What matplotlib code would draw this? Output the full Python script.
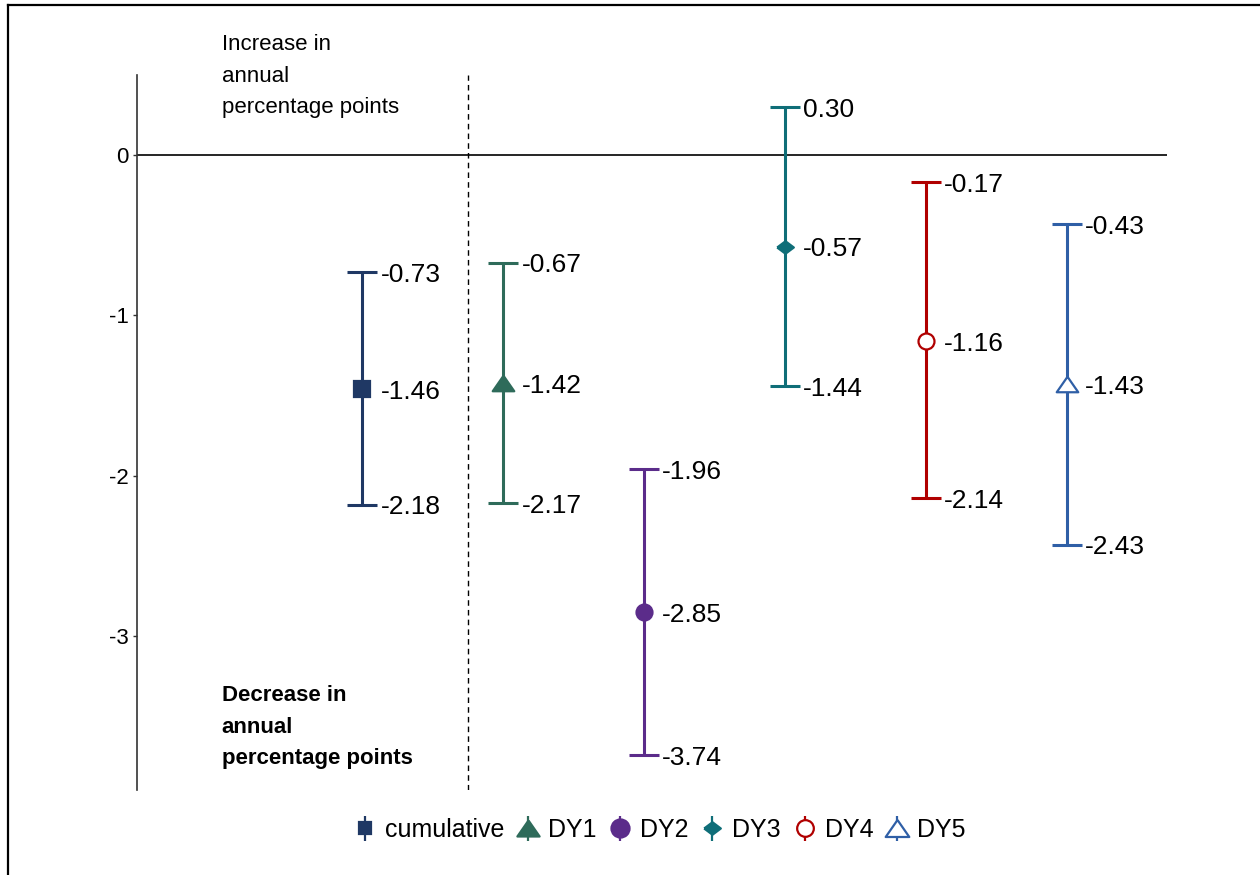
import numpy as np
import matplotlib
matplotlib.use("Agg")
import matplotlib.pyplot as plt
from matplotlib.lines import Line2D
from matplotlib.collections import LineCollection
from matplotlib.container import ErrorbarContainer

plt.rcParams['font.family'] = ['Liberation Sans', 'DejaVu Sans']
plt.rcParams['axes.unicode_minus'] = False

# ------------------------------------------------------------------------------
# Estimates with lower / upper bounds (annual percentage points)
# ------------------------------------------------------------------------------
names = ['cumulative', 'DY1', 'DY2', 'DY3', 'DY4', 'DY5']
est = [-1.46, -1.42, -2.85, -0.57, -1.16, -1.43]
lower = [-2.18, -2.17, -3.74, -1.44, -2.14, -2.43]
upper = [-0.73, -0.67, -1.96, 0.30, -0.17, -0.43]
yticks = [0, -1, -2, -3]

colors = ['#1f3864', '#2e6b5a', '#5b2c8a', '#0f6e78', '#b00000', '#2f5fa6']
tri = [(0, 0.72), (-1, -0.72), (1, -0.72), (0, 0.72)]
diamond = [(-1, 0), (0, 0.75), (1, 0), (0, -0.75), (-1, 0)]
markers = ['s', tri, 'o', diamond, 'o', tri]
msizes = [11.5, 15.5, 11.5, 12, 11.5, 15.5]
leg_sizes = [8, 16, 13, 12, 12, 17]
filled = [True, True, True, True, False, False]

fig = plt.figure(figsize=(12.6, 8.75), dpi=100)
ax = fig.add_axes([137 / 1260, 1 - 790 / 875, 1030 / 1260, 715 / 875])

xs = np.arange(1, len(names) + 1)
handles = []
for i, nm in enumerate(names):
    c = colors[i]
    face = c if filled[i] else 'white'
    yerr = [[est[i] - lower[i]], [upper[i] - est[i]]]
    ax.errorbar([xs[i]], [est[i]], yerr=yerr, fmt='none', ecolor=c,
                elinewidth=2.2, capsize=10.5, capthick=2.2, zorder=3)
    ax.plot([xs[i]], [est[i]], linestyle='none', marker=markers[i],
            markersize=msizes[i], color=c, markerfacecolor=face,
            markeredgecolor=c, markeredgewidth=1.6, zorder=4)
    for v in (lower[i], est[i], upper[i]):
        ax.annotate(f"{v:.2f}", xy=(xs[i], v), xytext=(13, -2),
                    textcoords='offset points', ha='left', va='center',
                    fontsize=19, color='black')

    # legend proxy: marker with a plain vertical bar, no caps
    ln = Line2D([], [], linestyle='none', marker=markers[i], markersize=leg_sizes[i],
                color=c, markerfacecolor=face, markeredgecolor=c, markeredgewidth=1.6)
    bar = LineCollection([], colors=[c], linewidths=1.6)
    handles.append(ErrorbarContainer((ln, (), (bar,)), has_xerr=False,
                                     has_yerr=True, label=nm))

ax.axhline(0, color='black', lw=1.2, zorder=1)
ax.axvline(1.75, color='black', lw=1.0, linestyle=(0, (4, 3)), zorder=1)

ax.text(0, 0.756, "Increase in\nannual\npercentage points", ha='left', va='top',
        fontsize=16, linespacing=1.67)
ax.text(0, -3.305, "Decrease in\nannual\npercentage points", ha='left', va='top',
        fontsize=16, fontweight='bold', linespacing=1.67)

ax.set_xlim(-0.6, 6.71)
ax.set_ylim(-3.96, 0.5)
ax.set_yticks(yticks)
ax.set_yticklabels([str(t) for t in yticks])
ax.set_xticks([])
for s in ('top', 'right', 'bottom'):
    ax.spines[s].set_visible(False)
ax.spines['left'].set_color('#333333')
ax.spines['left'].set_linewidth(1.2)
ax.tick_params(axis='y', length=3, width=1, color='#333333', pad=3,
               labelsize=16, labelcolor='black')

fig.legend(handles=handles, loc='center', bbox_to_anchor=(659 / 1260, 1 - 830 / 875),
           ncol=6, frameon=False, fontsize=18,
           handlelength=1.0, handletextpad=0.3, columnspacing=0.45)

# frame round the figure (left and top edges)
fig.add_artist(Line2D([8 / 1260, 8 / 1260], [0, 1 - 5 / 875], color='black', lw=1.6,
                      transform=fig.transFigure))
fig.add_artist(Line2D([8 / 1260, 1], [1 - 5 / 875, 1 - 5 / 875], color='black', lw=1.6,
                      transform=fig.transFigure))

fig.savefig('out.png', dpi=100)
